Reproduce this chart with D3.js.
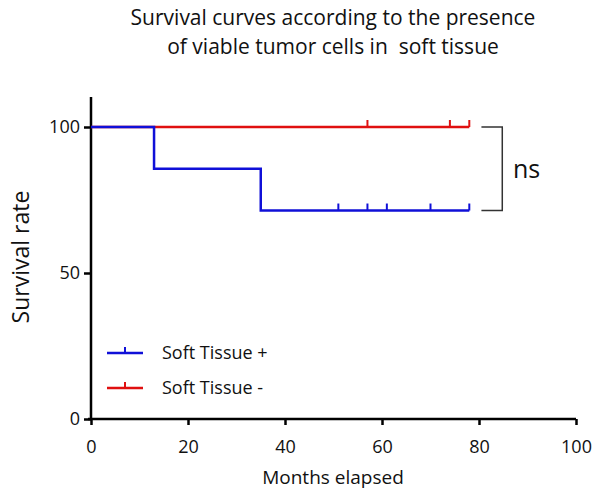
<!DOCTYPE html>
<html><head><meta charset="utf-8">
<script src="https://cdn.jsdelivr.net/npm/d3@7"></script>
<style>body{margin:0;background:#fff}svg{display:block}text{font-family:"Open Sans",sans-serif;fill:#111;white-space:pre}</style>
</head><body>
<script>
const titleLines = ["Survival curves according to the presence", "of viable tumor cells in  soft tissue"];
const seriesNames = ["Soft Tissue +", "Soft Tissue -"];
const seriesColors = ["#1010d8", "#e01010"];
// step points: [time, survival]
const stepsPlus = [[0,100],[13,100],[13,85.7],[35,85.7],[35,71.4],[78,71.4]];
const stepsMinus = [[0,100],[78,100]];
const censorPlus = [51,57,61,70,78];
const censorMinus = [57,74,78];
const xTicks = [0,20,40,60,80,100];
const yTicks = [0,50,100];

const W=600,H=495;
const svg=d3.select("body").append("svg").attr("width",W).attr("height",H);
const x=d3.scaleLinear().domain([0,100]).range([91,576]);
const y=d3.scaleLinear().domain([0,100]).range([419,127]);

svg.selectAll("text.title").data(titleLines).join("text").attr("class","title")
 .attr("x",333).attr("y",(d,i)=>25+i*29).attr("text-anchor","middle").attr("font-size",21).text(d=>d);

const xAx=svg.append("g").attr("transform","translate(0,419)")
 .call(d3.axisBottom(x).tickValues(xTicks).tickSize(6).tickFormat(d3.format("d")));
xAx.select(".domain").attr("stroke","#000").attr("stroke-width",2.5).attr("d","M88,0H576");
xAx.selectAll(".tick line").attr("stroke","#000").attr("stroke-width",2.5);
xAx.selectAll(".tick text").attr("font-size",18).attr("y",18).attr("dy","0.9em").attr("fill","#222");

const yAx=svg.append("g").attr("transform","translate(91,0)")
 .call(d3.axisLeft(y).tickValues(yTicks).tickSize(7));
yAx.select(".domain").attr("stroke","#000").attr("stroke-width",2.5).attr("d","M0,97V420");
yAx.selectAll(".tick line").attr("stroke","#000").attr("stroke-width",2.5);
yAx.selectAll(".tick text").attr("font-size",18).attr("x",-11).attr("fill","#222");

svg.append("text").attr("transform","translate(29,257) rotate(-90)").attr("text-anchor","middle")
 .attr("font-size",23).text("Survival rate");
svg.append("text").attr("x",333).attr("y",484).attr("text-anchor","middle").attr("font-size",19).text("Months elapsed");

const line=d3.line().x(d=>x(d[0])).y(d=>y(d[1]));
function drawSeries(steps,cens,color){
  svg.append("path").attr("d",line(steps)).attr("fill","none").attr("stroke",color).attr("stroke-width",2.5);
  const last=steps[steps.length-1][1];
  svg.selectAll(null).data(cens).join("line").attr("x1",d=>x(d)).attr("x2",d=>x(d))
   .attr("y1",y(last)).attr("y2",y(last)-7).attr("stroke",color).attr("stroke-width",2);
}
drawSeries(stepsMinus,censorMinus,seriesColors[1]);
drawSeries(stepsPlus,censorPlus,seriesColors[0]);

// significance bracket
const bx0=x(80.5), bx1=x(84.8);
svg.append("path").attr("d",`M${bx0},${y(100)}H${bx1}V${y(71.4)}H${bx0}`).attr("fill","none").attr("stroke","#333").attr("stroke-width",1.5);
svg.append("text").attr("x",x(87)).attr("y",y(85.7)+9).attr("font-size",25).text("ns");

// legend
const lg=svg.append("g");
seriesNames.forEach((n,i)=>{
  const yy=353+i*35;
  lg.append("line").attr("x1",107).attr("x2",143).attr("y1",yy).attr("y2",yy).attr("stroke",seriesColors[i]).attr("stroke-width",2.5);
  lg.append("line").attr("x1",125).attr("x2",125).attr("y1",yy).attr("y2",yy-6).attr("stroke",seriesColors[i]).attr("stroke-width",2);
  lg.append("text").attr("x",162).attr("y",yy+6).attr("font-size",18).text(n);
});
</script>
</body></html>
